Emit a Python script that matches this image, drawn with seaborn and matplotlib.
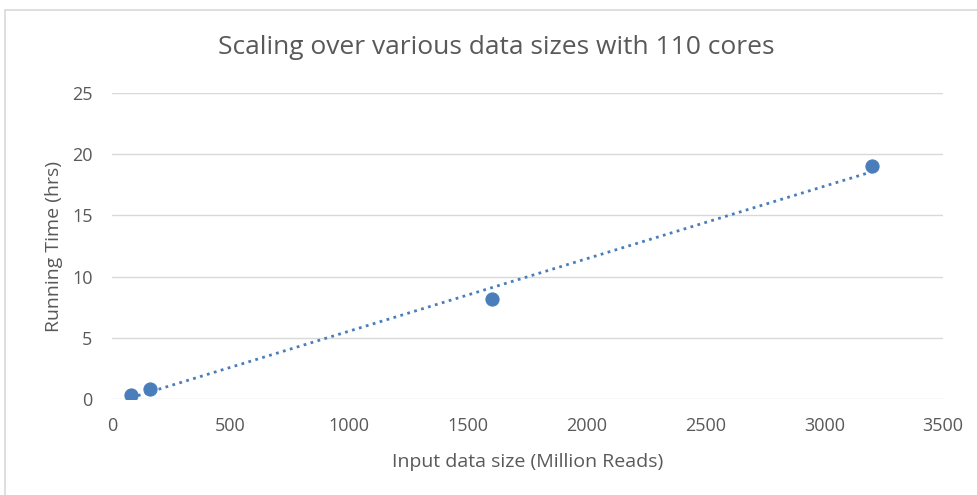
import numpy as np
import pandas as pd
import matplotlib
matplotlib.use('Agg')
import matplotlib.pyplot as plt
import seaborn as sns
from matplotlib.patches import Rectangle

# data
data_size = [80, 160, 1600, 3200]          # Million Reads
run_time = [0.35, 0.8, 8.2, 19.0]          # hrs
x_ticks = [0, 500, 1000, 1500, 2000, 2500, 3000, 3500]
y_ticks = [0, 5, 10, 15, 20, 25]

df = pd.DataFrame({'size': data_size, 'time': run_time})

sns.set_style('white')
plt.rcParams['font.family'] = ['Open Sans', 'DejaVu Sans']

blue = '#4a7ebb'
grey_txt = '#595959'

fig = plt.figure(figsize=(9.77, 4.95), dpi=100)
ax = fig.add_axes([0.1146, 0.194, 0.8506, 0.618])

# chart border like excel
fig.patches.append(Rectangle((0.005, -0.05), 1.2, 1.03, transform=fig.transFigure,
                             fill=False, edgecolor='#d9d9d9', linewidth=1.2))

# dotted linear trendline
sns.regplot(data=df, x='size', y='time', ax=ax, scatter=False, ci=None, truncate=True,
            line_kws=dict(color=blue, linestyle=(0, (1, 1.6)), linewidth=2))
sns.scatterplot(data=df, x='size', y='time', ax=ax, s=90, color=blue,
                edgecolor=blue, zorder=3)

ax.set_xlim(0, 3500)
ax.set_ylim(0, 25)
ax.set_xticks(x_ticks)
ax.set_yticks(y_ticks)
ax.grid(axis='y', color='#d9d9d9', linewidth=1)
ax.set_axisbelow(True)
for s in ax.spines.values():
    s.set_visible(False)
ax.tick_params(axis='x', length=0, labelsize=13, colors=grey_txt, pad=13)
ax.tick_params(axis='y', length=0, labelsize=13, colors=grey_txt, pad=14)

ax.set_xlabel('Input data size (Million Reads)', fontsize=14, color=grey_txt, va='center')
ax.set_ylabel('Running Time (hrs)', fontsize=14, color=grey_txt, va='center')
ax.xaxis.set_label_coords(0.5, -0.206)
ax.yaxis.set_label_coords(-0.07, 0.5)
fig.text(0.508, 0.905, 'Scaling over various data sizes with 110 cores',
         ha='center', va='center', fontsize=19, color=grey_txt)

fig.savefig('out.png', dpi=100)
